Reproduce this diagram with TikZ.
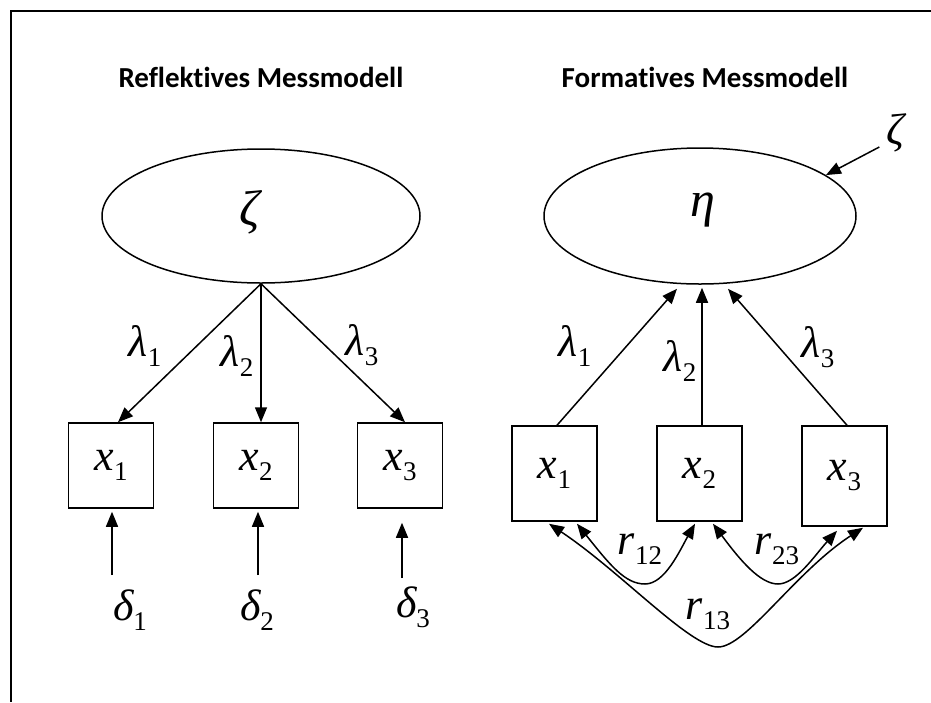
\documentclass[tikz,border=0pt]{standalone}
\usepackage{fontspec}
\setmainfont{Liberation Serif}
\newfontfamily\symfont{Liberation Serif Italic}
\newfontfamily\idxfont{Liberation Serif}
\newfontfamily\headfont{Carlito}[Ligatures={NoCommon}, BoldFont={Carlito Bold}]
\usetikzlibrary{arrows.meta,shapes.geometric,calc}

% italic symbol with a lowered upright index
\newcommand\sym[2]{{\symfont #1}\raisebox{-10pt}{\idxfont\fontsize{27}{27}\selectfont #2}}

\tikzset{
  latent/.style={draw, ellipse, inner sep=0pt},
  obs/.style={draw, rectangle, minimum width=85pt, inner sep=0pt},
  lbl/.style={inner sep=0pt},
  heading/.style={font=\headfont\bfseries\fontsize{29}{29}\selectfont, anchor=base, inner sep=0pt},
  path/.style={-{Triangle[length=15pt,width=12pt]}},
  both/.style={{Triangle[length=15pt,width=12pt]}-{Triangle[length=15pt,width=12pt]}}
}

\begin{document}
\begin{tikzpicture}[x=1pt, y=-1pt, line width=1.5pt,
  font=\fontsize{44}{44}\selectfont]
\useasboundingbox (0,0) rectangle (931,702);

% frame (top and left edges)
\coordinate (ftr) at (931,11);
\coordinate (ftl) at (11,11);
\coordinate (fbl) at (11,702);
\draw[line width=2.5pt] (ftr) -- (ftl) -- (fbl);

% headings
\node[heading] (h1) at (261,87) {Reflektives Messmodell};
\node[heading] (h2) at (705,87) {Formatives Messmodell};

% ---------------- reflective model ----------------
\node[latent, minimum width=318pt, minimum height=134pt] (L) at (261,216) {};
\node[lbl] (Lt) at (250,212) {{\symfont\fontsize{50}{50}\selectfont ζ}};

\node[obs, minimum height=85pt] (a1) at (111,465.5) {\sym{x}{1}};
\node[obs, minimum height=85pt] (a2) at (256,465.5) {\sym{x}{2}};
\node[obs, minimum height=85pt] (a3) at (400,465.5) {\sym{x}{3}};

\draw[path] (L.south) -- ($(a1.north)+(7,0)$);
\draw[path] (L.south) -- (L.south |- a2.north);
\draw[path] (L.south) -- ($(a3.north)+(5,0)$);

\node[lbl] (l1) at (145,346) {\sym{λ}{1}};
\node[lbl] (l2) at (237,356) {\sym{λ}{2}};
\node[lbl] (l3) at (362,345) {\sym{λ}{3}};

\node[lbl] (d1) at (130,610) {\sym{δ}{1}};
\node[lbl] (d2) at (257,610) {\sym{δ}{2}};
\node[lbl] (d3) at (413,607) {\sym{δ}{3}};

\coordinate (e1) at (112,575);
\coordinate (e2) at (258,575);
\coordinate (e3) at (402,578);
\draw[path] (e1) -- ($(e1 |- a1.south)+(0,3)$);
\draw[path] (e2) -- ($(e2 |- a2.south)+(0,3)$);
\draw[path] (e3) -- ($(e3 |- a3.south)+(0,14)$);

% ---------------- formative model ----------------
\node[latent, minimum width=312pt, minimum height=136pt] (R) at (700,216) {};
\node[lbl] (Rt) at (703,210) {{\symfont\fontsize{50}{50}\selectfont η}};

\node[obs, minimum height=95pt] (b1) at (554.5,473.5) {\sym{x}{1}};
\node[obs, minimum height=95pt] (b2) at (699.5,473.5) {\sym{x}{2}};
\node[obs, minimum height=100pt] (b3) at (844.5,476) {\sym{x}{3}};

\draw[path] ($(b1.north)+(2.5,0)$) -- ($(R.south)+(-23,4)$);
\draw[path] ($(b2.north)+(2.5,0)$) -- ($(R.south)+(2,3)$);
\draw[path] ($(b3.north)+(2.5,0)$) -- ($(R.south)+(28,4)$);

\node[lbl] (k1) at (575,346) {\sym{λ}{1}};
\node[lbl] (k2) at (680,361) {\sym{λ}{2}};
\node[lbl] (k3) at (818,347) {\sym{λ}{3}};

% disturbance of the latent variable
\node[lbl] (z) at (895,133) {{\symfont ζ}};
\draw[path] ($(z.west)+(-6,14)$) -- (R.18);

% correlations between the indicators
\draw[both] ($(b1.south)+(22.5,2)$) .. controls (610,565) and (625,584) .. (645,584)
  .. controls (665,584) and (680,550) .. ($(b2.south)+(-4.5,2)$);
\draw[both] ($(b2.south)+(13.5,2)$) .. controls (740,560) and (760,584) .. (778,584)
  .. controls (796,584) and (815,555) .. ($(b3.south)+(-7.5,4)$);
\draw[both] ($(b1.south)+(-5.5,2)$) .. controls (620,571) and (690,647) .. (718,647)
  .. controls (746,647) and (795,572) .. ($(b3.south)+(18.5,1)$);

\node[lbl] (r12) at (640,549) {\sym{r}{12}};
\node[lbl] (r23) at (777,549) {\sym{r}{23}};
\node[lbl] (r13) at (708,614) {\sym{r}{13}};
\end{tikzpicture}
\end{document}
